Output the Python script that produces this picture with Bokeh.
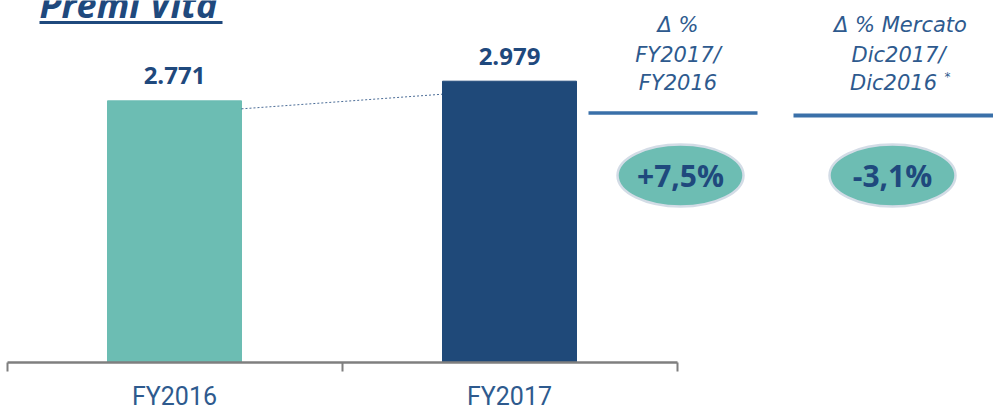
from bokeh.plotting import figure
from bokeh.models import Range1d, LinearAxis, FixedTicker, ColumnDataSource
from bokeh.core.properties import value
from bokeh.embed import file_html
from bokeh.resources import INLINE

# ---- data ----
categories = ["FY2016", "FY2017"]
premi = [2771, 2979]
bar_colors = ["#6CBDB3", "#1F4979"]
title_text = "Premi Vita"
col1_header = ["Δ %", "FY2017/", "FY2016"]
col2_header = ["Δ % Mercato", "Dic2017/", "Dic2016"]
market_delta_pct = -3.1

# ---- layout helpers (pixel -> data) ----
PX0, PXU = 6.5, 335.0
BASE, YPP = 362, 10.59


def X(px):
    return (px - PX0) / PXU


def Y(py):
    return (BASE - py) * YPP


DARK = "#1F497D"
MID = "#2E5A8E"

p = figure(frame_width=993, frame_height=362,
           x_range=Range1d(X(0), X(993)), y_range=Range1d(0, Y(0)),
           x_axis_location=None, y_axis_location=None,
           toolbar_location=None, output_backend="svg",
           min_border=0, outline_line_color=None)
p.xgrid.visible = False
p.ygrid.visible = False

xs = [i + 0.5 for i in range(len(categories))]
src = ColumnDataSource(dict(x=xs, top=premi, color=bar_colors, cat=categories,
                            lab=[f"{v:,}".replace(",", ".") for v in premi]))

axis = LinearAxis(ticker=FixedTicker(ticks=xs, minor_ticks=list(range(len(categories) + 1))),
                  bounds=(0, len(categories)),
                  major_label_overrides={x: c for x, c in zip(xs, categories)})
axis.major_tick_line_color = None
axis.major_tick_out = 0
axis.major_tick_in = 0
axis.minor_tick_line_color = "#7F7F7F"
axis.minor_tick_line_width = 2
axis.minor_tick_out = 9
axis.minor_tick_in = 0
axis.axis_line_color = "#7F7F7F"
axis.axis_line_width = 2.5
axis.major_label_text_font = "Roboto"
axis.major_label_text_font_size = "25px"
axis.major_label_text_color = MID
axis.major_label_standoff = 10
p.add_layout(axis, "below")

p.vbar(x="x", top="top", bottom=0, width=0.4, color="color", source=src)

# dotted connector between bars
p.line(x=[xs[0] + 0.2, xs[1] - 0.2], y=[premi[0] - 8 * YPP, premi[1] - 13 * YPP],
       line_color=DARK, line_width=1, line_dash="2 2", line_alpha=0.8)

p.text(x="x", y="top", text="lab", source=src, text_align="center",
       text_baseline="alphabetic", y_offset=-25, text_font=value("Open Sans"),
       text_font_style="bold", text_font_size="24px", text_color=DARK)

# title
p.text(x=[X(39)], y=[Y(4)], text=[title_text], text_font=value("Open Sans"),
       text_font_style="bold italic", text_font_size="36px", text_color=DARK,
       text_baseline="alphabetic", text_align="left")
p.line(x=[X(39), X(222)], y=[Y(22), Y(22)], line_color=DARK, line_width=3)

# right panel headers
base_lines = [24, 54, 82]
p.text(x=[X(677.5)] * 3, y=[Y(b) for b in base_lines], text=col1_header,
       text_font=value("DejaVu Sans"), text_font_style="italic", text_font_size="21px",
       text_color=MID, text_align="center", text_baseline="alphabetic")
p.text(x=[X(900), X(898), X(893)], y=[Y(b) for b in base_lines], text=col2_header,
       text_font=value("DejaVu Sans"), text_font_style="italic", text_font_size="21px",
       text_color=MID, text_align="center", text_baseline="alphabetic")
p.text(x=[X(947)], y=[Y(76)], text=["*"], text_font=value("DejaVu Sans"),
       text_font_size="12px", text_color=MID, text_align="center",
       text_baseline="alphabetic")

p.line(x=[X(588), X(757)], y=[Y(112.5)] * 2, line_color="#3A70A9", line_width=3.5)
p.line(x=[X(793), X(993)], y=[Y(115)] * 2, line_color="#3A70A9", line_width=4)

growth = (premi[1] / premi[0] - 1) * 100
pct_labels = [f"{growth:+.1f}%".replace(".", ","),
              f"{market_delta_pct:.1f}%".replace(".", ",")]
p.ellipse(x=[X(680), X(892)], y=[Y(175)] * 2, width=126, height=62,
          width_units="screen", height_units="screen",
          fill_color="#6DBDB3", line_color="#D3DCE6", line_width=2.5)
p.text(x=[X(680), X(892)], y=[Y(175)] * 2, text=pct_labels,
       text_font=value("Open Sans"), text_font_style="bold", text_font_size="30px",
       text_color=DARK, text_align="center", text_baseline="alphabetic")

open("out.html", "w").write(file_html(p, INLINE))
